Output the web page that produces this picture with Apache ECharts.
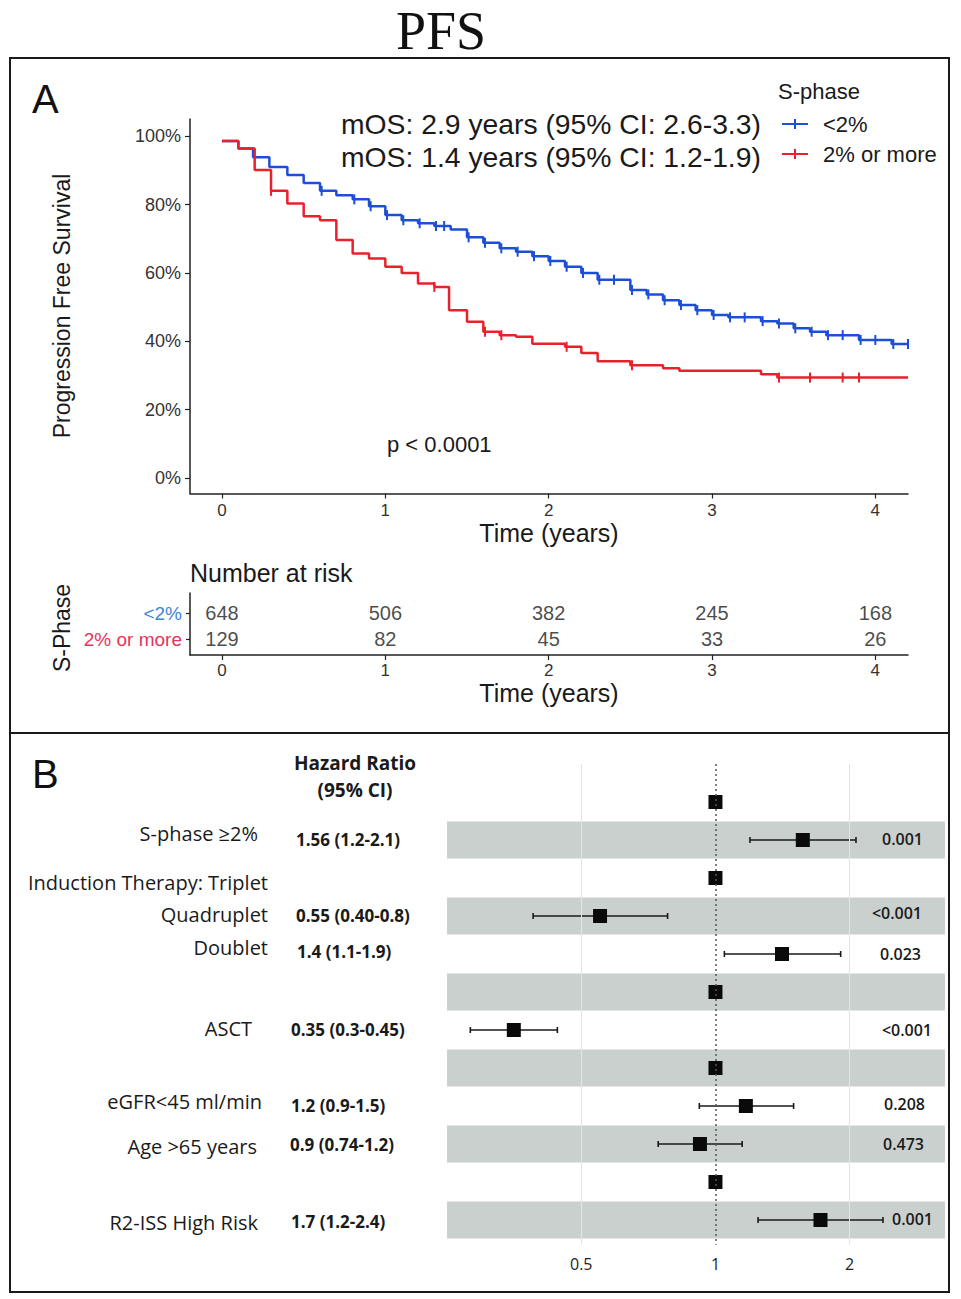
<!DOCTYPE html>
<html><head><meta charset="utf-8">
<script src="https://cdn.jsdelivr.net/npm/echarts@6/dist/echarts.min.js"></script>
<style>html,body{margin:0;padding:0;background:#fff}#c{width:961px;height:1299px}</style>
</head><body><div id="c"></div>
<script>
// ---------- DATA ----------
const groupNames = ['<2%', '2% or more'];
const blueTimes = [0, 0.1, 0.19, 0.29, 0.4, 0.5, 0.6, 0.7, 0.8, 0.9, 1.0, 1.1, 1.2, 1.3, 1.4, 1.5, 1.6, 1.7, 1.8, 1.9, 2.0, 2.1, 2.2, 2.3, 2.5, 2.6, 2.7, 2.8, 2.9, 3.0, 3.1, 3.3, 3.4, 3.5, 3.6, 3.7, 3.9, 4.1, 4.2];
const blueSurv  = [98.6, 96.4, 93.8, 91.0, 88.6, 86.3, 84.0, 82.7, 81.5, 79.5, 76.9, 75.4, 74.5, 73.7, 72.7, 70.4, 68.8, 67.2, 66.2, 64.9, 63.5, 61.8, 60.0, 58.0, 55.0, 53.7, 52.0, 50.6, 49.1, 47.7, 47.0, 45.9, 45.2, 43.8, 42.8, 41.8, 40.4, 39.2, 39.2];
const redTimes  = [0, 0.1, 0.2, 0.3, 0.4, 0.5, 0.6, 0.7, 0.8, 0.9, 1.0, 1.1, 1.2, 1.3, 1.39, 1.5, 1.6, 1.7, 1.8, 1.9, 2.1, 2.2, 2.3, 2.5, 2.7, 2.8, 3.3, 3.4, 4.2];
const redSurv   = [98.6, 96.4, 90.1, 84.0, 80.3, 76.6, 75.4, 69.6, 65.7, 64.2, 61.8, 60.0, 56.9, 55.9, 49.1, 45.7, 42.8, 41.8, 41.3, 39.3, 38.4, 36.6, 34.2, 33.0, 32.1, 31.4, 30.4, 29.4, 29.4];
const blueCensor = [0.61, 0.81, 0.91, 1.01, 1.11, 1.21, 1.31, 1.36, 1.51, 1.61, 1.71, 1.81, 1.91, 2.01, 2.11, 2.21, 2.31, 2.4, 2.51, 2.61, 2.71, 2.81, 2.91, 3.01, 3.11, 3.2, 3.31, 3.41, 3.51, 3.61, 3.71, 3.8, 3.91, 4.0, 4.11, 4.2];
const redCensor  = [0.3, 1.3, 1.61, 1.71, 2.11, 2.51, 3.41, 3.6, 3.8, 3.9];
const kmXTicks = [0, 1, 2, 3, 4];
const kmYTicks = [0, 20, 40, 60, 80, 100];
const medianText = ['mOS: 2.9 years (95% CI: 2.6-3.3)', 'mOS: 1.4 years (95% CI: 1.2-1.9)'];
const pValueText = 'p < 0.0001';

const riskTimes = [0, 1, 2, 3, 4];
const riskBlue = [648, 506, 382, 245, 168];
const riskRed  = [129, 82, 45, 33, 26];

const forestLabels = ['', 'S-phase \u22652%', 'Induction Therapy: Triplet', 'Quadruplet', 'Doublet', '', 'ASCT', '', 'eGFR<45 ml/min', 'Age >65 years', '', 'R2-ISS High Risk'];
const forestHR = [1, 1.57, 1, 0.551, 1.41, 1, 0.353, 1, 1.17, 0.923, 1, 1.72];
const forestLo = [null, 1.195, null, 0.39, 1.047, null, 0.282, null, 0.92, 0.744, null, 1.246];
const forestHi = [null, 2.066, null, 0.781, 1.909, null, 0.442, null, 1.497, 1.148, null, 2.375];
const forestHRText = ['', '1.56 (1.2-2.1)', '', '0.55 (0.40-0.8)', '1.4 (1.1-1.9)', '', '0.35 (0.3-0.45)', '', '1.2 (0.9-1.5)', '0.9 (0.74-1.2)', '', '1.7 (1.2-2.4)'];
const forestP = ['', '0.001', '', '<0.001', '0.023', '', '<0.001', '', '0.208', '0.473', '', '0.001'];
const forestBandRows = [1, 3, 5, 7, 9, 11];
const forestTicks = [0.5, 1, 2];

// ---------- LAYOUT (positions only) ----------
const LAY = {
  rowLabelRight: [0, 258, 268, 268, 268, 0, 252, 0, 262, 257, 0, 258],
  rowLabelY:     [0, 833, 882, 914, 947, 0, 1028, 0, 1101, 1146, 0, 1222],
  hrX:           [0, 296, 0, 296, 297, 0, 291, 0, 291, 290, 0, 291],
  hrY:           [0, 839, 0, 915, 951, 0, 1029, 0, 1105, 1144, 0, 1221],
  pRight:        [0, 923, 0, 922, 921, 0, 932, 0, 925, 924, 0, 933],
  pY:            [0, 839, 0, 913, 954, 0, 1030, 0, 1104, 1144, 0, 1219]
};

const BLUE = '#1d4fd6', RED = '#e8212b';
const SANS = 'Liberation Sans, Arial, sans-serif';
const FSANS = 'Open Sans, Noto Sans, sans-serif';

function survAt(times, surv, t) {
  let v = surv[0];
  for (let i = 0; i < times.length; i++) { if (times[i] <= t + 1e-9) v = surv[i]; }
  return v;
}

const chart = echarts.init(document.getElementById('c'), null, {renderer: 'svg'});

const graphic = [
  {type: 'rect', shape: {x: 10, y: 58, width: 939, height: 675}, style: {fill: 'none', stroke: '#1a1a1a', lineWidth: 2}},
  {type: 'rect', shape: {x: 10, y: 733, width: 939, height: 559}, style: {fill: 'none', stroke: '#1a1a1a', lineWidth: 2}},
  {type: 'text', x: 441, y: 31, style: {text: 'PFS', fontFamily: 'Liberation Serif, Times New Roman, serif', fontSize: 54, fill: '#111', align: 'center', verticalAlign: 'middle'}},
  {type: 'text', x: 32, y: 99, style: {text: 'A', fontFamily: SANS, fontSize: 40, fill: '#111', align: 'left', verticalAlign: 'middle'}},
  {type: 'text', x: 32, y: 774, style: {text: 'B', fontFamily: SANS, fontSize: 40, fill: '#111', align: 'left', verticalAlign: 'middle'}},
  {type: 'text', x: 341, y: 124, style: {text: medianText[0], fontFamily: SANS, fontSize: 28.3, fill: '#1a1a1a', align: 'left', verticalAlign: 'middle'}},
  {type: 'text', x: 341, y: 157, style: {text: medianText[1], fontFamily: SANS, fontSize: 28.3, fill: '#1a1a1a', align: 'left', verticalAlign: 'middle'}},
  {type: 'text', x: 387, y: 444, style: {text: pValueText, fontFamily: SANS, fontSize: 22, fill: '#1a1a1a', align: 'left', verticalAlign: 'middle'}},
  {type: 'text', x: 778, y: 91, style: {text: 'S-phase', fontFamily: SANS, fontSize: 22, fill: '#1a1a1a', align: 'left', verticalAlign: 'middle'}},
  {type: 'text', x: 62, y: 306, rotation: Math.PI / 2, style: {text: 'Progression Free Survival', fontFamily: SANS, fontSize: 23, fill: '#1a1a1a', align: 'center', verticalAlign: 'middle'}},
  {type: 'text', x: 549, y: 533, style: {text: 'Time (years)', fontFamily: SANS, fontSize: 25, fill: '#1a1a1a', align: 'center', verticalAlign: 'middle'}},
  {type: 'text', x: 190, y: 573, style: {text: 'Number at risk', fontFamily: SANS, fontSize: 25, fill: '#1a1a1a', align: 'left', verticalAlign: 'middle'}},
  {type: 'text', x: 62, y: 628, rotation: Math.PI / 2, style: {text: 'S-Phase', fontFamily: SANS, fontSize: 23, fill: '#1a1a1a', align: 'center', verticalAlign: 'middle'}},
  {type: 'text', x: 549, y: 693, style: {text: 'Time (years)', fontFamily: SANS, fontSize: 25, fill: '#1a1a1a', align: 'center', verticalAlign: 'middle'}},
  {type: 'text', x: 355, y: 763, style: {text: 'Hazard Ratio', fontFamily: FSANS, fontWeight: 'bold', fontSize: 19, fill: '#1a1a1a', align: 'center', verticalAlign: 'middle'}},
  {type: 'text', x: 355, y: 790, style: {text: '(95% CI)', fontFamily: FSANS, fontWeight: 'bold', fontSize: 19, fill: '#1a1a1a', align: 'center', verticalAlign: 'middle'}}
];
forestLabels.forEach((lab, i) => {
  if (lab) graphic.push({type: 'text', x: LAY.rowLabelRight[i], y: LAY.rowLabelY[i], style: {text: lab, fontFamily: FSANS, fontSize: 20, fill: '#1a1a1a', align: 'right', verticalAlign: 'middle'}});
  if (forestHRText[i]) graphic.push({type: 'text', x: LAY.hrX[i], y: LAY.hrY[i], style: {text: forestHRText[i], fontFamily: FSANS, fontWeight: 'bold', fontSize: 17, fill: '#1a1a1a', align: 'left', verticalAlign: 'middle'}});
  if (forestP[i]) graphic.push({type: 'text', x: LAY.pRight[i], y: LAY.pY[i], style: {text: forestP[i], fontFamily: FSANS, fontWeight: 600, fontSize: 16, fill: '#1a1a1a', align: 'right', verticalAlign: 'middle'}});
});
graphic.forEach(g => { g.z = 100; g.silent = true; });

const legendIcon = 'path://M0,4 L26,4 L26,6 L0,6 Z M12,0 L14,0 L14,10 L12,10 Z';

const axisBase = {
  axisLine: {show: true, onZero: false, lineStyle: {color: '#222', width: 1.5}},
  splitLine: {show: false}
};

const option = {
  animation: false,
  backgroundColor: '#fff',
  graphic: graphic,
  legend: {
    orient: 'vertical', left: 782, top: 113, padding: 0, itemWidth: 26, itemHeight: 10, itemGap: 8,
    selectedMode: false,
    data: [{name: groupNames[0], icon: legendIcon}, {name: groupNames[1], icon: legendIcon}],
    textStyle: {fontFamily: SANS, fontSize: 22, color: '#1a1a1a', padding: [0, 0, 0, 10]}
  },
  grid: [
    {left: 190, top: 119, width: 718, height: 374.5},
    {left: 190, top: 593, width: 718, height: 62},
    {left: 447, top: 764, width: 498, height: 480.7}
  ],
  xAxis: [
    Object.assign({}, axisBase, {gridIndex: 0, type: 'value', min: -0.196, max: 4.2,
      axisTick: {show: true, customValues: kmXTicks, length: 5, lineStyle: {color: '#222', width: 1.2}},
      axisLabel: {customValues: kmXTicks, fontFamily: SANS, fontSize: 17, color: '#333', margin: 8}}),
    Object.assign({}, axisBase, {gridIndex: 1, type: 'value', min: -0.196, max: 4.2,
      axisTick: {show: true, customValues: riskTimes, length: 5, lineStyle: {color: '#222', width: 1.2}},
      axisLabel: {customValues: riskTimes, fontFamily: SANS, fontSize: 17, color: '#333', margin: 7}}),
    {gridIndex: 2, type: 'value', min: -2, max: 1.71,
      axisLine: {show: false}, axisTick: {show: false}, splitLine: {show: false},
      axisLabel: {customValues: forestTicks.map(v => Math.log2(v)), formatter: v => String(Math.round(Math.pow(2, v) * 100) / 100),
        fontFamily: FSANS, fontSize: 16, color: '#222', margin: 11}}
  ],
  yAxis: [
    Object.assign({}, axisBase, {gridIndex: 0, type: 'value', min: -4.5, max: 105,
      axisTick: {show: true, customValues: kmYTicks, length: 5, lineStyle: {color: '#222', width: 1.2}},
      axisLabel: {customValues: kmYTicks, formatter: v => v + '%', fontFamily: SANS, fontSize: 18, color: '#333', margin: 9}}),
    Object.assign({}, axisBase, {gridIndex: 1, type: 'value', min: -0.77, max: 1.615, inverse: true,
      axisTick: {show: true, customValues: [0, 1], length: 4, lineStyle: {color: '#222', width: 1.2}},
      axisLabel: {customValues: [0, 1], margin: 8,
        formatter: v => (v === 0 ? '{b|' + groupNames[0] + '}' : '{r|' + groupNames[1] + '}'),
        rich: {b: {color: '#3d86d6', fontFamily: SANS, fontSize: 19}, r: {color: '#e8345a', fontFamily: SANS, fontSize: 19}}}}),
    {gridIndex: 2, type: 'value', min: -1, max: 11.65, inverse: true, show: false}
  ],
  series: [
    {name: groupNames[0], type: 'line', xAxisIndex: 0, yAxisIndex: 0, step: 'end', symbol: 'none',
      color: BLUE, lineStyle: {color: BLUE, width: 2.5}, z: 3,
      data: blueTimes.map((t, i) => [t, blueSurv[i]])},
    {name: groupNames[1], type: 'line', xAxisIndex: 0, yAxisIndex: 0, step: 'end', symbol: 'none',
      color: RED, lineStyle: {color: RED, width: 2.5}, z: 4,
      data: redTimes.map((t, i) => [t, redSurv[i]])},
    {name: 'censorBlue', type: 'scatter', xAxisIndex: 0, yAxisIndex: 0, symbol: 'rect', symbolSize: [2, 10],
      itemStyle: {color: BLUE, opacity: 1}, z: 3, silent: true,
      data: blueCensor.map(t => [t, survAt(blueTimes, blueSurv, t)])},
    {name: 'censorRed', type: 'scatter', xAxisIndex: 0, yAxisIndex: 0, symbol: 'rect', symbolSize: [2, 10],
      itemStyle: {color: RED, opacity: 1}, z: 4, silent: true,
      data: redCensor.map(t => [t, survAt(redTimes, redSurv, t)])},
    {name: 'riskBlue', type: 'scatter', xAxisIndex: 1, yAxisIndex: 1, symbolSize: 0, silent: true,
      data: riskTimes.map((t, i) => [t, 0, riskBlue[i]]),
      label: {show: true, position: 'inside', formatter: p => String(p.value[2]), fontFamily: SANS, fontSize: 20, color: '#1a1a1a'}},
    {name: 'riskRed', type: 'scatter', xAxisIndex: 1, yAxisIndex: 1, symbolSize: 0, silent: true,
      data: riskTimes.map((t, i) => [t, 1, riskRed[i]]),
      label: {show: true, position: 'inside', formatter: p => String(p.value[2]), fontFamily: SANS, fontSize: 20, color: '#1a1a1a'}},
    {name: 'bands', type: 'scatter', xAxisIndex: 2, yAxisIndex: 2, data: [], silent: true, z: 1,
      markArea: {silent: true, itemStyle: {color: '#cad0ce', opacity: 1},
        data: forestBandRows.map(r => [{yAxis: r - 0.49}, {yAxis: r + 0.49}])},
      markLine: {silent: true, symbol: 'none', label: {show: false},
        data: [
          {xAxis: Math.log2(0.5), lineStyle: {color: '#e4e4e4', width: 1, type: 'solid'}},
          {xAxis: Math.log2(2), lineStyle: {color: '#e4e4e4', width: 1, type: 'solid'}},
          {xAxis: 0, lineStyle: {color: '#555', width: 1.5, type: [2, 3]}}
        ]}},
    {name: 'ci', type: 'custom', xAxisIndex: 2, yAxisIndex: 2, silent: true, z: 3,
      data: forestHR.map((h, i) => forestLo[i] == null ? null : [Math.log2(forestLo[i]), Math.log2(forestHi[i]), i]).filter(d => d),
      renderItem: (params, api) => {
        const p1 = api.coord([api.value(0), api.value(2)]);
        const p2 = api.coord([api.value(1), api.value(2)]);
        const st = {stroke: '#1a1a1a', lineWidth: 1.6};
        return {type: 'group', children: [
          {type: 'line', shape: {x1: p1[0], y1: p1[1], x2: p2[0], y2: p2[1]}, style: st},
          {type: 'line', shape: {x1: p1[0], y1: p1[1] - 3, x2: p1[0], y2: p1[1] + 3}, style: st},
          {type: 'line', shape: {x1: p2[0], y1: p2[1] - 3, x2: p2[0], y2: p2[1] + 3}, style: st}
        ]};
      }},
    {name: 'hr', type: 'scatter', xAxisIndex: 2, yAxisIndex: 2, symbol: 'rect', symbolSize: 14, silent: true, z: 4,
      itemStyle: {color: '#0a0a0a', opacity: 1},
      data: forestHR.map((h, i) => [Math.log2(h), i])}
  ]
};
chart.setOption(option);
</script>
</body></html>
